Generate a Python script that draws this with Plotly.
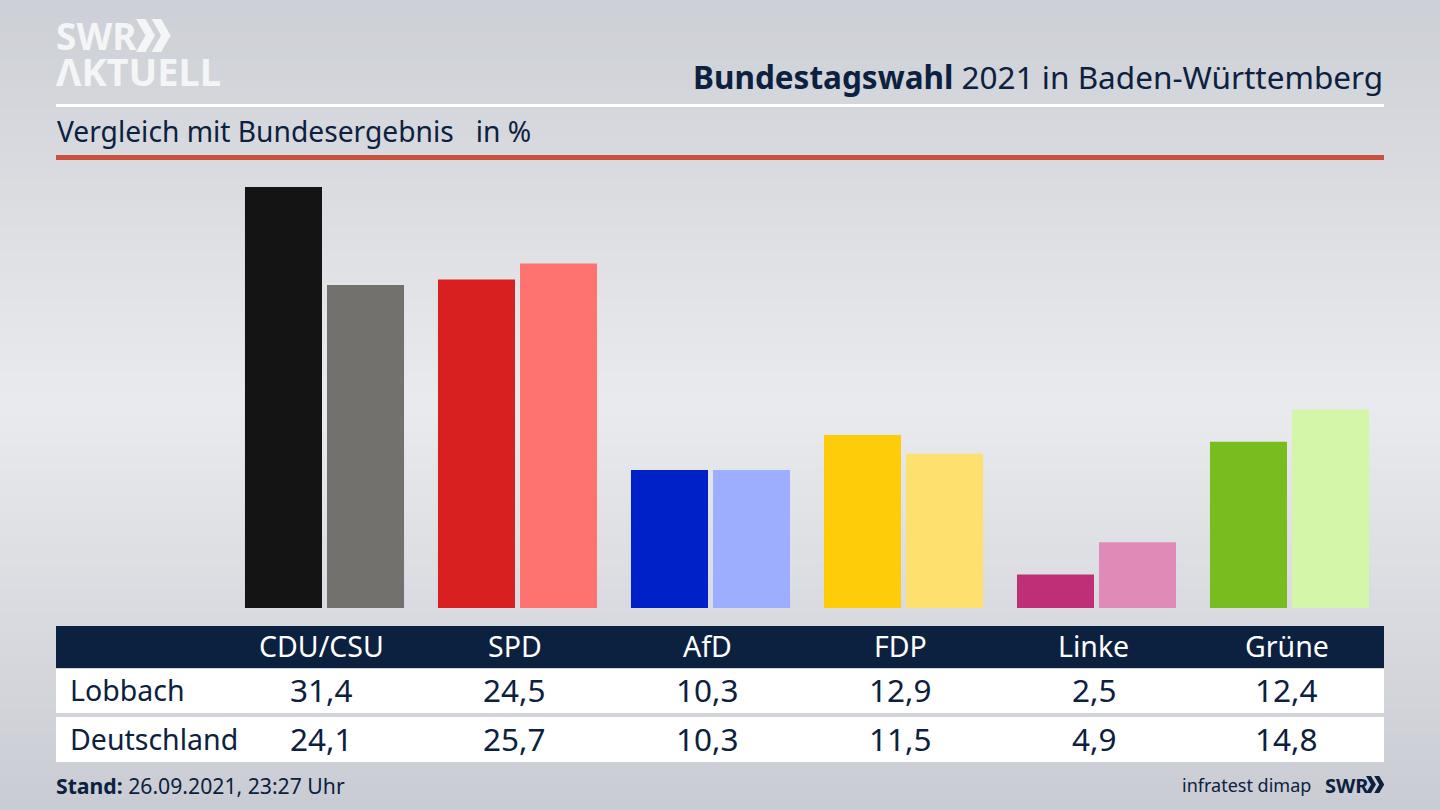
import plotly.graph_objects as go

parties = ["CDU/CSU", "SPD", "AfD", "FDP", "Linke", "Grüne"]
lobbach = [31.4, 24.5, 10.3, 12.9, 2.5, 12.4]
deutschland = [24.1, 25.7, 10.3, 11.5, 4.9, 14.8]
colors_lobbach = ["#141414", "#d7201f", "#0020c8", "#ffcc0a", "#be2f78", "#79bc1e"]
colors_deutschland = ["#72716e", "#fe736f", "#9dadff", "#fee06f", "#e08ab8", "#d3f6a8"]
row_labels = ["Lobbach", "Deutschland"]

W, H = 1440, 810
NAVY = "#0c2140"
FONT = "Noto Sans"
PX_PER_UNIT = 421 / 31.4
BASE_Y = 608
GROUP0, GROUP_STEP = 324.5, 193


def px(x):
    return x / W


def py(y):
    return 1 - y / H


def rect(x0, y0, x1, y1, color, layer="below"):
    return dict(type="rect", xref="paper", yref="paper", x0=px(x0), x1=px(x1), y0=py(y0), y1=py(y1),
                fillcolor=color, line=dict(width=0), layer=layer)


def text(x, y, s, size, color=NAVY, anchor="left", family=FONT, weight=None):
    font = dict(family=family, size=size, color=color)
    if weight:
        font["weight"] = weight
    return dict(xref="paper", yref="paper", x=px(x), y=py(y), text=s, showarrow=False, xanchor=anchor,
                yanchor="middle", align="left", font=font)


def mix(a, b, t):
    return tuple(a[i] + (b[i] - a[i]) * t for i in range(3))


stops = [(0, (205, 208, 214)), (400, (234, 235, 238)), (810, (201, 204, 211))]
shapes = []
for y in range(0, H, 6):
    for (y0, c0), (y1, c1) in zip(stops, stops[1:]):
        if y0 <= y < y1:
            c = mix(c0, c1, (y - y0) / (y1 - y0))
            shapes.append(rect(0, y, W, y + 7, "rgb(%d,%d,%d)" % c))
            break

shapes += [
    rect(56, 104, 1384, 107, "#ffffff"),
    rect(56, 155, 1384, 160, "#c9503c"),
    rect(56, 626, 1384, 668, NAVY),
    rect(56, 669, 1384, 713, "#ffffff"),
    rect(56, 717, 1384, 762, "#ffffff"),
]


def chevrons(x, y, h, color, w):
    out = []
    for dx in (0, w * 0.82):
        path = "M%f,%f L%f,%f L%f,%f L%f,%f L%f,%f L%f,%f Z" % (
            px(x + dx), py(y), px(x + dx + w * 0.5), py(y), px(x + dx + w), py(y + h / 2),
            px(x + dx + w * 0.5), py(y + h), px(x + dx), py(y + h), px(x + dx + w * 0.5), py(y + h / 2))
        out.append(dict(type="path", xref="paper", yref="paper", path=path, fillcolor=color,
                        line=dict(width=0), layer="below"))
    return out


shapes += chevrons(136, 19, 33, "#f4f5f6", 19)
shapes += chevrons(1366, 776, 17, NAVY, 10)

logo = ('<span style="font-size:37px"><b>SWR</b></span><br>'
        '<span style="font-size:38px"><b>ΛKTUELL</b></span>')

annotations = [
    text(54, 54, logo, 28, "#f4f5f6"),
    text(1385, 76.5, "<b>Bundestagswahl</b> 2021 in Baden-Württemberg", 31.5, NAVY, "right"),
    text(55, 131.5, "Vergleich mit Bundesergebnis&nbsp;&nbsp;&nbsp;in %", 28.2),
    text(68, 690, row_labels[0], 28.5),
    text(68, 739, row_labels[1], 28.5),
    text(54, 785, "<b>Stand:</b> 26.09.2021, 23:27 Uhr", 21.2),
    text(1313, 785, "infratest dimap", 18, NAVY, "right"),
    text(1323, 785, "<b>SWR</b>", 20, NAVY),
]


def cell(i, y, s, color, size):
    return dict(xref="x", yref="paper", x=i, y=py(y), xshift=-3, text=s, showarrow=False, xanchor="center",
                yanchor="middle", font=dict(family=FONT, size=size, color=color))


for i, p in enumerate(parties):
    annotations.append(cell(i, 646, p, "#ffffff", 28.5))
    annotations.append(cell(i, 689.5, f"{lobbach[i]:.1f}".replace(".", ","), NAVY, 31.5))
    annotations.append(cell(i, 738.5, f"{deutschland[i]:.1f}".replace(".", ","), NAVY, 31.5))

xs = list(range(len(parties)))
fig = go.Figure()
fig.add_bar(x=xs, y=lobbach, name=row_labels[0], marker=dict(color=colors_lobbach, line=dict(width=0)))
fig.add_bar(x=xs, y=deutschland, name=row_labels[1], marker=dict(color=colors_deutschland, line=dict(width=0)))
fig.update_layout(
    width=W, height=H, autosize=False, margin=dict(l=0, r=0, t=0, b=0, pad=0),
    paper_bgcolor="#e0e1e5", plot_bgcolor="rgba(0,0,0,0)", showlegend=False,
    barmode="group", bargap=0.15, bargroupgap=0.061,
    shapes=shapes, annotations=annotations,
    xaxis=dict(range=[-GROUP0 / GROUP_STEP, (W - GROUP0) / GROUP_STEP], visible=False, fixedrange=True),
    yaxis=dict(range=[-(H - BASE_Y) / PX_PER_UNIT, BASE_Y / PX_PER_UNIT], visible=False, fixedrange=True),
)
fig.write_html("out.html", config=dict(displayModeBar=False),
               post_script="document.body.style.margin='0';")
